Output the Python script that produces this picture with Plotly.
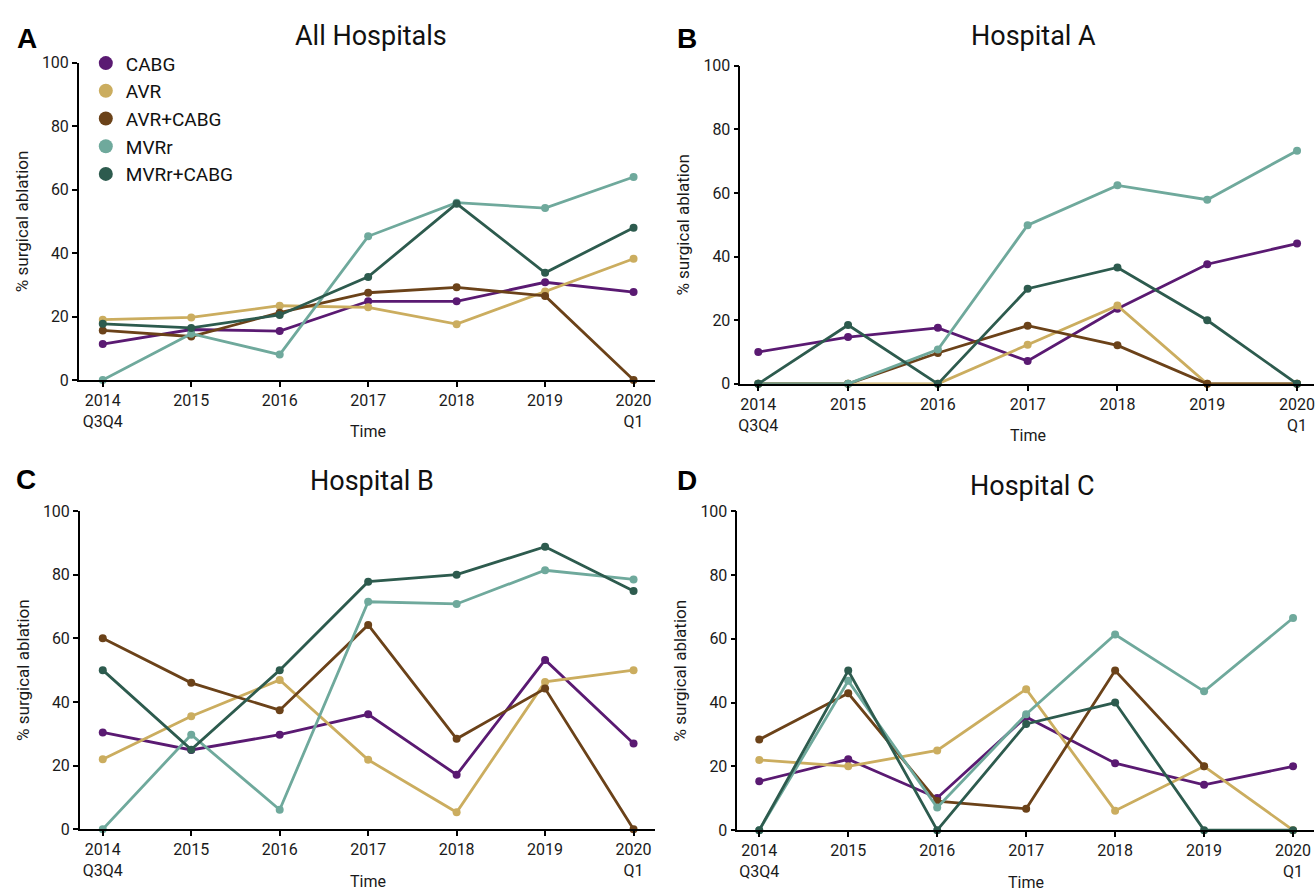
import plotly.graph_objects as go

# ---- data -----------------------------------------------------------------
periods = ["2014<br>Q3Q4", "2015", "2016", "2017", "2018", "2019", "2020<br>Q1"]
procedures = ["CABG", "AVR", "AVR+CABG", "MVRr", "MVRr+CABG"]

# % surgical ablation, one list per procedure, per panel
all_cabg = [11.3, 15.9, 15.4, 24.8, 24.8, 30.8, 27.7]
all_avr = [19.0, 19.7, 23.4, 22.9, 17.6, 27.9, 38.2]
all_avr_cabg = [15.6, 13.7, 21.2, 27.5, 29.2, 26.5, 0]
all_mvrr = [0, 14.6, 8.0, 45.3, 55.9, 54.2, 64.0]
all_mvrr_cabg = [17.7, 16.4, 20.5, 32.5, 55.6, 33.8, 48.0]

a_cabg = [10.0, 14.7, 17.6, 7.2, 23.6, 37.6, 44.1]
a_avr = [0, 0, 0, 12.3, 24.6, 0, 0]
a_avr_cabg = [0, 0, 9.7, 18.3, 12.1, 0, 0]
a_mvrr = [0, 0, 10.8, 49.9, 62.4, 57.9, 73.3]
a_mvrr_cabg = [0, 18.5, 0, 29.9, 36.6, 20.0, 0]

b_cabg = [30.4, 24.9, 29.7, 36.1, 17.1, 53.2, 26.9]
b_avr = [22.0, 35.5, 46.9, 21.8, 5.3, 46.3, 50.0]
b_avr_cabg = [60.0, 46.0, 37.4, 64.2, 28.4, 44.2, 0]
b_mvrr = [0, 29.7, 6.1, 71.5, 70.8, 81.4, 78.5]
b_mvrr_cabg = [50.0, 25.0, 50.0, 77.8, 80.0, 88.8, 74.9]

c_cabg = [15.3, 22.2, 10.1, 35.5, 21.0, 14.2, 20.0]
c_avr = [22.0, 20.0, 25.0, 44.2, 6.1, 20.0, 0]
c_avr_cabg = [28.4, 42.9, 9.1, 6.7, 50.0, 20.0, None]
c_mvrr = [0, 46.8, 7.1, 36.3, 61.3, 43.5, 66.5]
c_mvrr_cabg = [0, 50.0, 0, 33.3, 40.0, 0, 0]

panel_titles = ["All Hospitals", "Hospital A", "Hospital B", "Hospital C"]
panel_letters = ["A", "B", "C", "D"]
panel_series = [
    [all_cabg, all_avr, all_avr_cabg, all_mvrr, all_mvrr_cabg],
    [a_cabg, a_avr, a_avr_cabg, a_mvrr, a_mvrr_cabg],
    [b_cabg, b_avr, b_avr_cabg, b_mvrr, b_mvrr_cabg],
    [c_cabg, c_avr, c_avr_cabg, c_mvrr, c_mvrr_cabg],
]

# ---- styling --------------------------------------------------------------
colors = ["#5a1a72", "#cbad5f", "#6b4219", "#6fa99c", "#2d5b4e"]
FONT = "Roboto"
W, H = 1315, 893

# panel geometry in pixels: axis left, axis right, first tick, last tick, top (100), bottom (0)
geom = [
    dict(left=77, right=654, t0=101, t6=633, top=55, bottom=379, cx=370),
    dict(left=740, right=1315, t0=758, t6=1298, top=58, bottom=383, cx=1034),
    dict(left=78, right=654, t0=101, t6=633, top=513, bottom=838, cx=371),
    dict(left=737, right=1315, t0=759, t6=1294, top=513, bottom=839, cx=1033),
]
letter_pos = [(25, 30), (687, 30), (24, 481), (687, 482)]
title_y = [28, 28, 482, 487]

fig = go.Figure()
layout = dict(
    width=W, height=H,
    margin=dict(l=0, r=0, t=0, b=0),
    paper_bgcolor="white", plot_bgcolor="white",
    font=dict(family=FONT, color="#1a1a1a"),
    showlegend=True,
    annotations=[],
)

x_idx = list(range(len(periods)))

for p, g in enumerate(geom):
    n = "" if p == 0 else str(p + 1)
    spacing = (g["t6"] - g["t0"]) / 6.0
    xr = [-(g["t0"] - g["left"]) / spacing, 6 + (g["right"] - g["t6"]) / spacing]
    layout["xaxis" + n] = dict(
        domain=[g["left"] / W, g["right"] / W],
        range=xr, tickvals=x_idx, ticktext=periods,
        showline=True, linecolor="black", linewidth=1.5,
        ticks="outside", ticklen=5, tickwidth=1.5, tickcolor="black",
        showgrid=False, zeroline=False, ticklabeloverflow="allow",
        tickfont=dict(family=FONT, size=16, color="#1a1a1a"),
        anchor="y" + n, fixedrange=True,
    )
    layout["yaxis" + n] = dict(
        domain=[1 - g["bottom"] / H, 1 - g["top"] / H],
        range=[0, 100], tickvals=[0, 20, 40, 60, 80, 100],
        showline=True, linecolor="black", linewidth=1.5,
        ticks="outside", ticklen=5, tickwidth=1.5, tickcolor="black",
        showgrid=False, zeroline=False,
        tickfont=dict(family=FONT, size=16, color="#1a1a1a"),
        title=dict(text="% surgical ablation", standoff=9,
                   font=dict(family=FONT, size=17, color="#1a1a1a")),
        anchor="x" + n, fixedrange=True,
    )
    for s, (name, vals) in enumerate(zip(procedures, panel_series[p])):
        fig.add_trace(go.Scatter(
            x=x_idx, y=vals, mode="lines+markers", name=name,
            line=dict(color=colors[s], width=2.8),
            marker=dict(color=colors[s], size=8),
            cliponaxis=False, showlegend=False,
            xaxis="x" + n, yaxis="y" + n,
        ))
    # panel title
    layout["annotations"].append(dict(
        text=panel_titles[p], x=g["cx"] / W, y=1 - title_y[p] / H,
        xref="paper", yref="paper", xanchor="center", yanchor="middle",
        showarrow=False, font=dict(family=FONT, size=27, color="#111111"),
    ))
    # panel letter
    lx, ly = letter_pos[p]
    layout["annotations"].append(dict(
        text="<b>" + panel_letters[p] + "</b>", x=lx / W, y=1 - ly / H,
        xref="paper", yref="paper", xanchor="center", yanchor="middle",
        showarrow=False, font=dict(family="Liberation Sans", size=28, color="black"),
    ))
    # x-axis title
    layout["annotations"].append(dict(
        text="Time", x=(g["t0"] + 3 * spacing) / W, y=1 - (g["bottom"] + 53) / H,
        xref="paper", yref="paper", xanchor="center", yanchor="middle",
        showarrow=False, font=dict(family=FONT, size=16, color="#1a1a1a"),
    ))

# legend entries: plain dots
for s, name in enumerate(procedures):
    fig.add_trace(go.Scatter(
        x=[None], y=[None], mode="markers", name=name,
        marker=dict(color=colors[s], size=14),
        showlegend=True, xaxis="x", yaxis="y",
    ))

layout["legend"] = dict(
    x=84 / W, y=1 - 36 / H, xanchor="left", yanchor="top",
    font=dict(family=FONT, size=19, color="#111111"),
    bgcolor="rgba(0,0,0,0)", itemwidth=30, tracegroupgap=0,
)

fig.update_layout(**layout)
fig.write_html("out.html")
